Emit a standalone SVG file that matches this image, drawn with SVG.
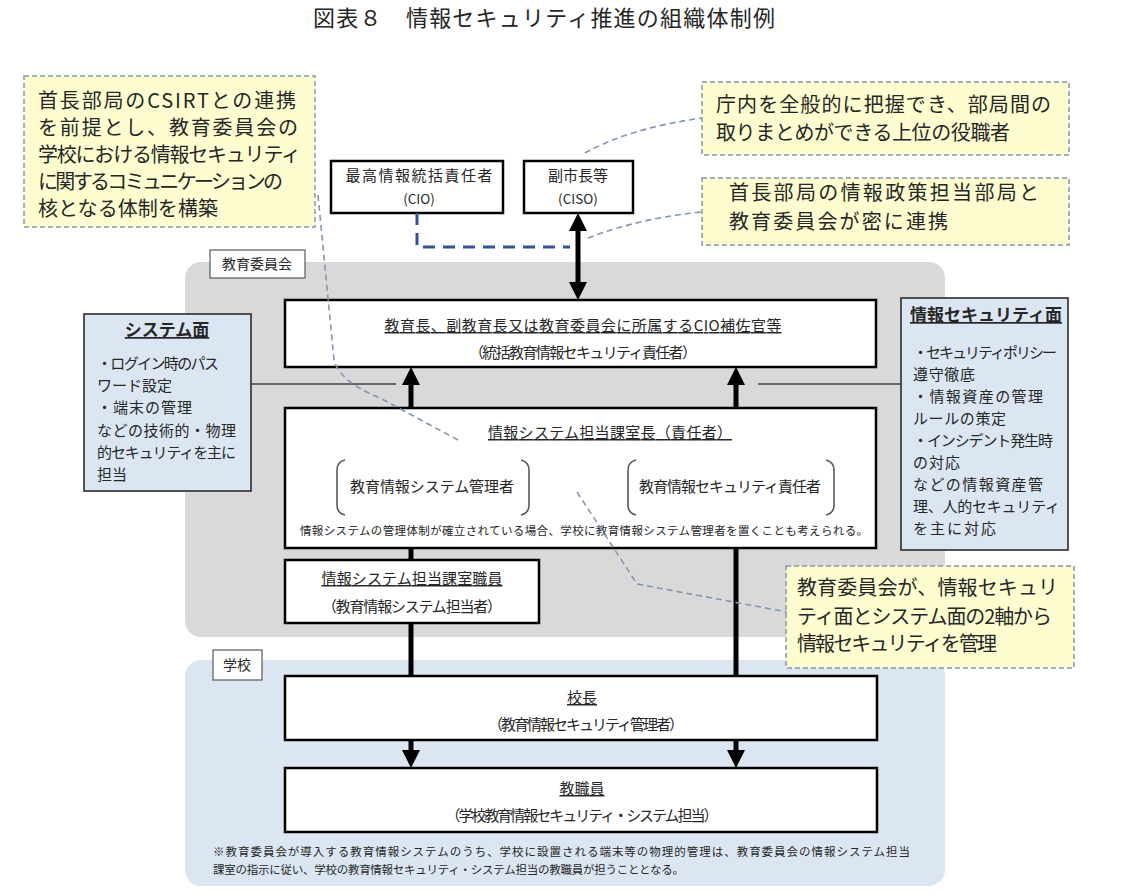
<svg xmlns="http://www.w3.org/2000/svg" width="1127" height="896" viewBox="0 0 1127 896">
<defs>
<style>
text{font-family:"Noto Sans CJK JP","Noto Sans",sans-serif;fill:#262626}
.title{font-size:22px}
.call{font-size:20px}
.callbox{fill:#fdfdd0;stroke:#8497b0;stroke-width:1.5;stroke-dasharray:5 3}
.lead{fill:none;stroke:#8497b0;stroke-width:1.6;stroke-dasharray:6 4}
.box{fill:#fff;stroke:#000;stroke-width:2.5}
.bt{font-size:15px;text-anchor:middle}
.bs{font-size:13.5px;text-anchor:middle}
.u{text-decoration:underline}
.side{fill:#dce6f2;stroke:#404040;stroke-width:1.8}
.st{font-size:15px}
.sh{font-size:17px;font-weight:bold;text-anchor:middle;text-decoration:underline}
.lbl{fill:#fff;stroke:#595959;stroke-width:1.2}
.small{font-size:11.5px}
.thick{stroke:#000;stroke-width:5;fill:none}
.gline{stroke:#404040;stroke-width:1.3}
.brk{fill:none;stroke:#595959;stroke-width:1.6}
</style>
<marker id="ah" viewBox="0 0 10 10" refX="0" refY="5" markerWidth="18" markerHeight="18" markerUnits="userSpaceOnUse" orient="auto-start-reverse"><path d="M0,0 L10,5 L0,10 z" fill="#000"/></marker>
</defs>
<rect width="1127" height="896" fill="#fff"/>

<text class="title" x="544" y="26" text-anchor="middle" textLength="462">図表８　情報セキュリティ推進の組織体制例</text>

<!-- regions -->
<g id="region-board">
<rect x="185" y="262" width="760" height="375" rx="16" fill="#d9d9d9"/>
<rect class="lbl" x="210" y="250" width="95" height="28"/>
<text x="257" y="269" font-size="14" text-anchor="middle">教育委員会</text>
</g>
<g id="region-school">
<rect x="185" y="660" width="760" height="226" rx="16" fill="#dce6f2"/>
<rect class="lbl" x="213" y="650" width="49" height="30"/>
<text x="237" y="670" font-size="14" text-anchor="middle">学校</text>
</g>

<!-- callouts -->
<g id="callout-csirt">
<rect class="callbox" x="24" y="76" width="291" height="151"/>
<text class="call" x="38" y="108" textLength="258">首長部局のCSIRTとの連携</text>
<text class="call" x="38" y="135" textLength="260">を前提とし、教育委員会の</text>
<text class="call" x="38" y="162" textLength="263">学校における情報セキュリティ</text>
<text class="call" x="38" y="189" textLength="245">に関するコミュニケーションの</text>
<text class="call" x="38" y="216" textLength="180">核となる体制を構築</text>
</g>
<g id="callout-vice">
<rect class="callbox" x="702" y="82" width="367" height="73"/>
<text class="call" x="716" y="112" textLength="335">庁内を全般的に把握でき、部局間の</text>
<text class="call" x="716" y="140" textLength="294">取りまとめができる上位の役職者</text>
</g>
<g id="callout-link">
<rect class="callbox" x="702" y="178" width="367" height="67"/>
<text class="call" x="729" y="200" textLength="310">首長部局の情報政策担当部局と</text>
<text class="call" x="729" y="229" textLength="219">教育委員会が密に連携</text>
</g>
<g id="callout-axes">
<rect class="callbox" x="786" y="566" width="288" height="102"/>
<text class="call" x="797" y="595" textLength="261">教育委員会が、情報セキュリ</text>
<text class="call" x="797" y="624" textLength="255">ティ面とシステム面の2軸から</text>
<text class="call" x="797" y="651" textLength="200">情報セキュリティを管理</text>
</g>

<!-- top boxes -->
<g id="node-cio">
<rect class="box" x="331" y="161" width="172" height="52"/>
<text class="bt" x="419" y="181" textLength="147">最高情報統括責任者</text>
<text class="bs" x="419" y="204">(CIO)</text>
</g>
<g id="node-ciso">
<rect class="box" x="524" y="161" width="109" height="52"/>
<text class="bt" x="578" y="181">副市長等</text>
<text class="bs" x="578" y="204">(CISO)</text>
</g>

<g id="node-cio-assist">
<rect class="box" x="285" y="300" width="591" height="67"/>
<text class="bt u" x="583" y="331" textLength="397">教育長、副教育長又は教育委員会に所属するCIO補佐官等</text>
<text class="bt" x="583" y="358" textLength="228">（統括教育情報セキュリティ責任者）</text>
</g>

<g id="node-section-chief">
<rect class="box" x="285" y="408" width="591" height="140"/>
<text class="bt u" x="610" y="438" textLength="244">情報システム担当課室長（責任者）</text>
<path class="brk" d="M345,460 Q337,462 337,470 V505 Q337,513 345,515"/>
<path class="brk" d="M521,460 Q529,462 529,470 V505 Q529,513 521,515"/>
<text class="bt" x="432" y="492" textLength="164">教育情報システム管理者</text>
<path class="brk" d="M636,460 Q628,462 628,470 V505 Q628,513 636,515"/>
<path class="brk" d="M826,460 Q834,462 834,470 V505 Q834,513 826,515"/>
<text class="bt" x="730" y="492" textLength="182">教育情報セキュリティ責任者</text>
<text class="small" x="584" y="535" text-anchor="middle" textLength="568">情報システムの管理体制が確立されている場合、学校に教育情報システム管理者を置くことも考えられる。</text>
</g>

<g id="node-section-staff">
<rect class="box" x="285" y="560" width="254" height="63"/>
<text class="bt u" x="412" y="584" textLength="181">情報システム担当課室職員</text>
<text class="bt" x="412" y="612" textLength="180">（教育情報システム担当者）</text>
</g>

<g id="node-system">
<rect class="side" x="84" y="314" width="167" height="177"/>
<text class="sh" x="167" y="336">システム面</text>
<text class="st" x="97" y="369" textLength="122">・ログイン時のパス</text>
<text class="st" x="97" y="391" textLength="75">ワード設定</text>
<text class="st" x="97" y="413" textLength="95">・端末の管理</text>
<text class="st" x="97" y="436" textLength="139">などの技術的・物理</text>
<text class="st" x="97" y="458" textLength="139">的セキュリティを主に</text>
<text class="st" x="97" y="480">担当</text>
</g>

<g id="node-security">
<rect class="side" x="901" y="298" width="167" height="252"/>
<text class="sh" x="986" y="321">情報セキュリティ面</text>
<text class="st" x="913" y="358" textLength="144">・セキュリティポリシー</text>
<text class="st" x="913" y="380" textLength="62">遵守徹底</text>
<text class="st" x="913" y="402" textLength="130">・情報資産の管理</text>
<text class="st" x="913" y="424" textLength="93">ルールの策定</text>
<text class="st" x="913" y="446" textLength="140">・インシデント発生時</text>
<text class="st" x="913" y="468" textLength="47">の対応</text>
<text class="st" x="913" y="490" textLength="130">などの情報資産管</text>
<text class="st" x="913" y="512" textLength="147">理、人的セキュリティ</text>
<text class="st" x="913" y="534" textLength="83">を主に対応</text>
</g>

<g id="node-principal">
<rect class="box" x="285" y="676" width="592" height="64"/>
<text class="bt u" x="582" y="703">校長</text>
<text class="bt" x="586" y="730" textLength="196">（教育情報セキュリティ管理者）</text>
</g>

<g id="node-teachers">
<rect class="box" x="285" y="768" width="592" height="64"/>
<text class="bt u" x="582" y="794">教職員</text>
<text class="bt" x="582" y="821" textLength="273">（学校教育情報セキュリティ・システム担当）</text>
</g>

<g id="footnote">
<text class="small" x="213" y="856" textLength="697">※教育委員会が導入する教育情報システムのうち、学校に設置される端末等の物理的管理は、教育委員会の情報システム担当</text>
<text class="small" x="213" y="874" textLength="471">課室の指示に従い、学校の教育情報セキュリティ・システム担当の教職員が担うこととなる。</text>
</g>

<!-- connectors -->
<g id="connectors">
<path d="M417,213 V247 H570" fill="none" stroke="#2f5597" stroke-width="3" stroke-dasharray="12 8"/>
<line class="thick" x1="578" y1="231" x2="578" y2="282" marker-start="url(#ah)" marker-end="url(#ah)"/>
<line class="thick" x1="411" y1="408" x2="411" y2="385" marker-end="url(#ah)"/>
<line class="thick" x1="736" y1="408" x2="736" y2="385" marker-end="url(#ah)"/>
<line class="thick" x1="411" y1="548" x2="411" y2="560"/>
<line class="thick" x1="411" y1="623" x2="411" y2="676"/>
<line class="thick" x1="736" y1="548" x2="736" y2="676"/>
<line class="thick" x1="411" y1="740" x2="411" y2="750" marker-end="url(#ah)"/>
<line class="thick" x1="736" y1="740" x2="736" y2="750" marker-end="url(#ah)"/>
<line class="gline" x1="251" y1="384" x2="396" y2="384"/>
<line class="gline" x1="758" y1="384" x2="901" y2="384"/>
<path class="lead" d="M318,195 L334,360 Q340,382 380,398 L458,440"/>
<path class="lead" d="M585,153 Q630,128 702,118"/>
<path class="lead" d="M588,238 Q640,218 702,212"/>
<path class="lead" d="M577,492 L637,584 L787,612"/>
</g>
</svg>
